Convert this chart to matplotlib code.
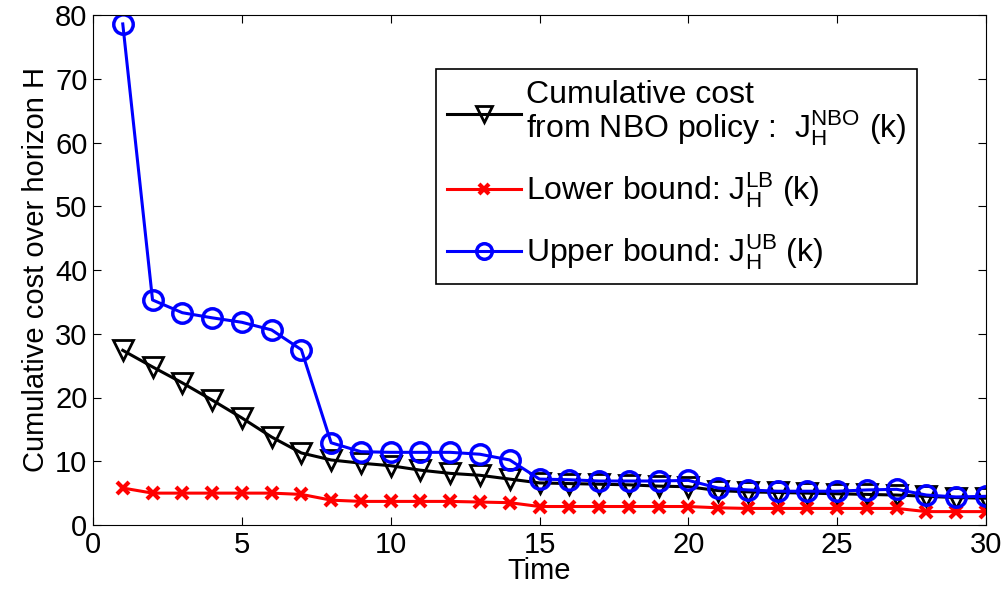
import matplotlib
matplotlib.use("Agg")
import matplotlib.pyplot as plt

plt.rcParams["font.family"] = ["Liberation Sans", "DejaVu Sans"]
plt.rcParams["mathtext.default"] = "regular"

time = list(range(1, 31))
nbo = [27.4, 24.8, 22.3, 19.6, 16.8, 13.8, 11.3, 10.2, 9.7, 9.3,
       8.6, 8.1, 7.8, 7.2, 6.6, 6.5, 6.4, 6.3, 6.1, 6.0,
       5.4, 5.2, 5.1, 5.0, 4.9, 4.8, 4.7, 4.5, 4.3, 4.2]
lower = [5.8, 5.0, 5.0, 5.0, 5.0, 5.0, 4.8, 3.9, 3.7, 3.7,
         3.7, 3.7, 3.6, 3.5, 2.9, 2.9, 2.9, 2.9, 2.9, 2.9,
         2.7, 2.6, 2.6, 2.6, 2.6, 2.6, 2.6, 2.1, 2.1, 2.1]
upper = [78.6, 35.3, 33.3, 32.5, 31.8, 30.6, 27.5, 12.9, 11.5, 11.4,
         11.4, 11.4, 11.1, 10.2, 7.2, 7.1, 6.9, 6.9, 6.9, 7.0,
         5.8, 5.5, 5.3, 5.3, 5.3, 5.5, 5.6, 4.7, 4.4, 4.5]

fig = plt.figure(figsize=(10.06, 5.99), dpi=100)
ax = fig.add_axes([93 / 1006, 1 - 525 / 599, 893 / 1006, 510 / 599])

ax.plot(time, nbo, color="black", lw=2.2, marker="v", ms=14, mfc="none", mew=2,
        label="Cumulative cost\nfrom NBO policy :  $J_H^{NBO}$ (k)")
ax.plot(time, lower, color="red", lw=2.2, marker="x", ms=9, mew=3,
        label="Lower bound: $J_H^{LB}$ (k)")
ax.plot(time, upper, color="blue", lw=2.2, marker="o", ms=14, mfc="none", mew=2.5,
        label="Upper bound: $J_H^{UB}$ (k)")

ax.set_xlim(0, 30)
ax.set_ylim(0, 80)
ax.set_xticks(range(0, 31, 5))
ax.set_yticks(range(0, 81, 10))
ax.tick_params(direction="in", top=True, right=True, labelsize=21, length=6, pad=4)
ax.set_xlabel("Time", fontsize=21, labelpad=-1)
ax.set_ylabel("Cumulative cost over horizon H", fontsize=21, labelpad=4)

leg = ax.legend(loc="upper right", bbox_to_anchor=(0.923, 0.895), fontsize=23, fancybox=False,
                edgecolor="black", handlelength=2.3, handletextpad=0.15, labelspacing=0.7,
                borderpad=0.35, borderaxespad=0, framealpha=1, markerscale=0.8)
leg.get_frame().set_linewidth(1.2)
leg.get_texts()[0].set_linespacing(0.95)

fig.savefig("out.png", dpi=100)
